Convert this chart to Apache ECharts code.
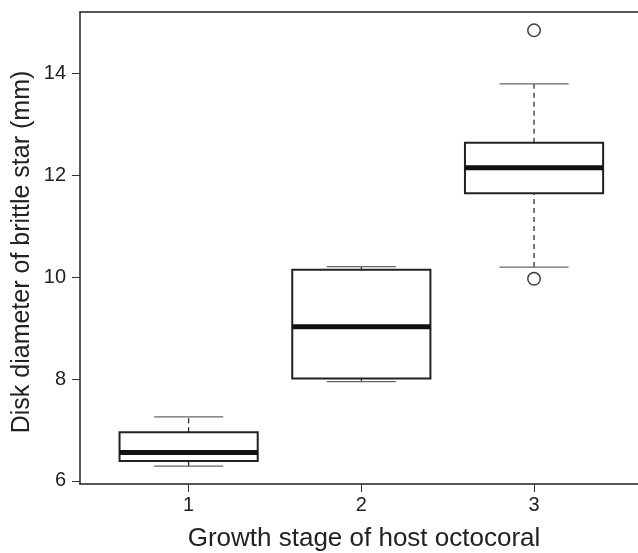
<!DOCTYPE html>
<html>
<head>
<meta charset="utf-8">
<script src="https://cdn.jsdelivr.net/npm/echarts@6/dist/echarts.min.js"></script>
<style>
html,body{margin:0;padding:0;background:#fff;}
#chart{width:638px;height:553px;}
</style>
</head>
<body>
<div id="chart"></div>
<script>
var categories = [1, 2, 3];
var whiskerLow = [6.29, 7.95, 10.20];
var q1 = [6.39, 8.01, 11.65];
var median = [6.56, 9.03, 12.15];
var q3 = [6.955, 10.15, 12.64];
var whiskerHigh = [7.26, 10.21, 13.80];
var outliers = [[3, 14.85], [3, 9.97]];
var yTicks = [6, 8, 10, 12, 14];
var xTicks = [1, 2, 3];
var xTitle = 'Growth stage of host octocoral';
var yTitle = 'Disk diameter of brittle star (mm)';

var FONT = '"Liberation Sans", Arial, Helvetica, sans-serif';
var boxData = categories.map(function (c, i) {
  return [c, whiskerLow[i], q1[i], median[i], q3[i], whiskerHigh[i]];
});

var chart = echarts.init(document.getElementById('chart'), null, {renderer: 'canvas'});
chart.setOption({
  backgroundColor: '#fff',
  animation: false,
  grid: {left: 80, top: 12, right: 0, bottom: 69, show: false},
  xAxis: [{
    type: 'value', min: 0.371, max: 3.602,
    axisLine: {show: true, lineStyle: {color: '#222', width: 1.5}},
    axisTick: {show: true, length: 8, customValues: xTicks, lineStyle: {color: '#333', width: 1}},
    axisLabel: {customValues: xTicks, margin: 11, fontSize: 20, color: '#222', fontFamily: FONT},
    splitLine: {show: false}
  }, {
    type: 'value', position: 'top', min: 0.371, max: 3.602,
    axisLine: {show: true, lineStyle: {color: '#222', width: 1.5}},
    axisTick: {show: false}, axisLabel: {show: false}, splitLine: {show: false}
  }],
  yAxis: {
    type: 'value', min: 5.94, max: 15.21,
    axisLine: {show: true, lineStyle: {color: '#222', width: 1.5}},
    axisTick: {show: true, length: 8, customValues: yTicks, lineStyle: {color: '#333', width: 1}},
    axisLabel: {customValues: yTicks, margin: 14, fontSize: 20, color: '#222', fontFamily: FONT},
    splitLine: {show: false}
  },
  graphic: [
    {type: 'text', x: 0, y: 0, style: {text: xTitle, x: 364, y: 539, align: 'center', verticalAlign: 'middle', fontSize: 26, fill: '#222', fontFamily: FONT}},
    {type: 'text', rotation: Math.PI / 2, x: 22, y: 252, style: {text: yTitle, align: 'center', verticalAlign: 'middle', fontSize: 25, fill: '#222', fontFamily: FONT}}
  ],
  series: [
    {
      type: 'custom',
      data: boxData,
      encode: {x: 0, y: [1, 2, 3, 4, 5]},
      renderItem: function (params, api) {
        var x = api.value(0);
        var lo = api.value(1), a = api.value(2), m = api.value(3), b = api.value(4), hi = api.value(5);
        var pBL = api.coord([x - 0.4, a]);
        var pTR = api.coord([x + 0.4, b]);
        var pm1 = api.coord([x - 0.4, m]);
        var pm2 = api.coord([x + 0.4, m]);
        var pc = api.coord([x, lo]);
        var pa = api.coord([x, a]);
        var pb = api.coord([x, b]);
        var ph = api.coord([x, hi]);
        var cl1 = api.coord([x - 0.2, lo]), cl2 = api.coord([x + 0.2, lo]);
        var ch1 = api.coord([x - 0.2, hi]), ch2 = api.coord([x + 0.2, hi]);
        var dash = {stroke: '#222', lineWidth: 1.2, lineDash: [5, 4]};
        return {
          type: 'group',
          children: [
            {type: 'line', shape: {x1: pc[0], y1: pc[1], x2: pa[0], y2: pa[1]}, style: dash},
            {type: 'line', shape: {x1: pb[0], y1: pb[1], x2: ph[0], y2: ph[1]}, style: dash},
            {type: 'line', shape: {x1: cl1[0], y1: cl1[1], x2: cl2[0], y2: cl2[1]}, style: {stroke: '#666', lineWidth: 1.2}},
            {type: 'line', shape: {x1: ch1[0], y1: ch1[1], x2: ch2[0], y2: ch2[1]}, style: {stroke: '#666', lineWidth: 1.2}},
            {type: 'rect', shape: {x: pBL[0], y: pTR[1], width: pTR[0] - pBL[0], height: pBL[1] - pTR[1]}, style: {fill: '#fff', stroke: '#222', lineWidth: 2}},
            {type: 'line', shape: {x1: pm1[0], y1: pm1[1], x2: pm2[0], y2: pm2[1]}, style: {stroke: '#111', lineWidth: 5}}
          ]
        };
      }
    },
    {
      type: 'scatter',
      data: outliers,
      symbol: 'circle',
      symbolSize: 12.5,
      itemStyle: {color: '#fff', borderColor: '#111', borderWidth: 1.5}
    }
  ]
});
</script>
</body>
</html>
